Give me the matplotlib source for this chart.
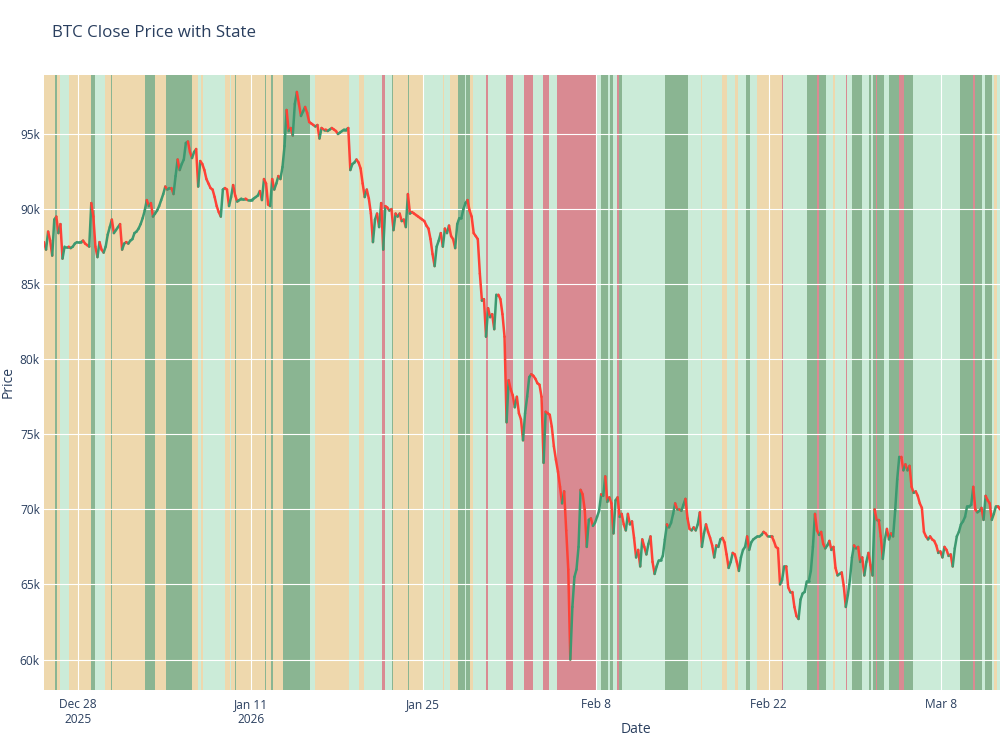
import matplotlib
matplotlib.use("Agg")
import matplotlib.pyplot as plt
import matplotlib.dates as mdates
from matplotlib.collections import LineCollection
from matplotlib.ticker import FuncFormatter
import numpy as np
import pandas as pd

# 4-hourly BTC close (thousands of USD), from 2025-12-25 06:00
series_start = "2025-12-25 06:00"
close_k = [
    87.8, 87.3, 88.5, 87.9, 86.9, 89.3, 89.5, 88.4, 89.0, 86.7,
    87.5, 87.5, 87.5, 87.4, 87.5, 87.7, 87.8, 87.8, 87.8, 87.9,
    87.7, 87.6, 87.5, 90.4, 89.5, 87.5, 86.8, 87.8, 87.3, 87.1,
    87.5, 88.3, 88.8, 89.3, 88.4, 88.6, 88.8, 89.0, 87.3, 87.7,
    87.8, 87.7, 87.9, 88.0, 88.4, 88.5, 88.7, 89.0, 89.4, 89.9,
    90.6, 90.2, 90.4, 89.5, 89.7, 89.9, 90.2, 90.6, 91.0, 91.5,
    91.3, 91.4, 91.4, 91.0, 92.2, 93.3, 92.6, 93.0, 93.3, 94.4,
    94.5, 93.8, 93.4, 93.8, 94.0, 91.5, 93.2, 93.0, 92.6, 92.0,
    91.7, 91.4, 91.3, 90.8, 90.2, 89.8, 89.5, 91.3, 91.4, 91.3,
    90.2, 90.8, 91.6, 90.9, 90.5, 90.6, 90.7, 90.7, 90.7, 90.6,
    90.6, 90.6, 90.7, 90.8, 90.9, 91.2, 90.6, 92.0, 91.7, 90.3,
    90.2, 92.0, 91.3, 91.7, 92.2, 92.0, 92.8, 94.2, 96.6, 95.2,
    95.4, 94.9, 97.0, 97.8, 97.0, 96.2, 96.5, 96.8, 96.4, 95.8,
    95.7, 95.6, 95.5, 95.6, 94.7, 95.4, 95.3, 95.3, 95.2, 95.3,
    95.4, 95.3, 95.2, 95.0, 95.1, 95.2, 95.3, 95.3, 95.4, 92.6,
    93.0, 93.1, 93.3, 93.1, 92.7, 91.7, 90.8, 91.3, 90.7, 89.7,
    87.8, 89.3, 89.7, 88.8, 90.4, 87.3, 90.2, 90.1, 89.9, 90.0,
    88.6, 89.7, 89.5, 89.7, 89.2, 89.3, 88.8, 91.0, 89.7, 89.8,
    89.7, 89.6, 89.5, 89.4, 89.3, 89.2, 88.9, 88.7, 88.0, 87.0,
    86.2, 87.5, 87.9, 88.4, 87.5, 88.7, 88.4, 88.9, 88.2, 88.0,
    87.4, 89.0, 89.4, 89.4, 90.0, 90.4, 90.6, 89.9, 89.5, 88.4,
    88.2, 88.0, 85.7, 83.9, 84.0, 81.5, 83.4, 82.8, 83.0, 82.0,
    84.3, 84.3, 84.0, 83.0, 81.5, 75.8, 78.6, 78.0, 77.6, 76.8,
    77.5, 76.4, 76.0, 74.6, 76.4, 77.5, 78.8, 79.0, 78.9, 78.7,
    78.4, 78.3, 77.5, 73.1, 76.5, 76.4, 76.3, 75.5, 74.2, 73.3,
    72.5, 71.5, 70.4, 71.2, 68.6, 66.0, 60.0, 63.5, 65.5, 66.0,
    67.5, 71.3, 71.0, 70.0, 67.5, 69.3, 69.4, 68.9, 69.1, 69.5,
    69.9, 71.0, 70.9, 72.2, 70.5, 70.8, 70.4, 68.4, 70.6, 70.8,
    69.5, 69.7, 69.0, 68.6, 69.7, 69.0, 69.2, 68.1, 66.8, 67.3,
    66.2, 68.0, 67.5, 67.0, 67.7, 68.2, 66.5, 65.7, 66.2, 66.6,
    66.6, 66.9, 68.0, 69.0, 68.8, 69.1, 69.7, 70.4, 70.0, 70.0,
    69.9, 70.3, 70.7, 69.4, 68.7, 68.6, 68.8, 68.6, 69.0, 69.8,
    67.5, 68.4, 69.0, 68.5, 68.1, 67.6, 66.8, 67.6, 67.5, 68.0,
    68.1, 67.8, 67.0, 66.1, 66.5, 67.1, 67.0, 66.5, 65.9, 66.8,
    67.3, 67.5, 68.2, 67.3, 67.8, 68.0, 68.1, 68.2, 68.2, 68.3,
    68.5, 68.4, 68.2, 68.2, 68.2, 67.9, 67.5, 67.4, 65.0, 65.3,
    66.2, 66.2, 64.8, 64.5, 64.5, 63.5, 62.9, 62.7, 64.0, 64.4,
    64.5, 65.2, 65.2, 65.9, 67.5, 69.7, 68.6, 68.3, 68.5, 67.7,
    67.4, 67.6, 67.9, 67.3, 67.5, 66.1, 65.6, 65.7, 65.8, 64.9,
    63.5, 64.3, 65.3, 66.8, 67.6, 67.4, 67.5, 66.5, 66.8, 65.6,
    66.5, 67.1, 66.3, 65.6, 70.0, 69.3, 69.3, 68.2, 66.7, 68.0,
    68.7, 68.0, 68.4, 68.2, 69.9, 72.0, 73.5, 73.5, 72.6, 73.0,
    72.6, 72.9, 71.5, 71.1, 71.2, 70.9, 70.4, 70.1, 68.5, 68.2,
    68.0, 68.2, 68.0, 67.9, 67.6, 67.1, 67.2, 66.8, 67.5, 67.3,
    66.9, 67.0, 66.2, 67.4, 68.2, 68.5, 69.0, 69.2, 69.5, 70.2,
    70.2, 70.3, 71.5, 70.0, 69.8, 69.9, 70.1, 69.3, 70.9, 70.6,
    70.4, 69.3, 69.7, 70.2, 70.2, 70.0,
]

# state runs: start (days from 2025-12-28 00:00) and state code
# N = neutral, U = up, S = strong up, D = down
band_start_day = [
    -2.75, -1.89, -1.67, -1.48, -0.73, 1.09, 1.41, 2.17, 2.65, 2.79,
    5.41, 6.22, 7.17, 9.28, 9.73, 10.01, 10.14, 11.92, 12.30, 12.44,
    12.71, 12.79, 15.20, 15.28, 15.68, 15.81, 16.63, 18.85, 19.20, 21.98,
    22.79, 23.20, 24.69, 24.87, 25.47, 25.55, 26.74, 26.85, 27.98, 28.52,
    28.58, 29.60, 29.66, 30.15, 30.82, 31.36, 31.50, 31.77, 31.99, 33.12,
    33.25, 34.74, 35.28, 36.15, 36.90, 37.71, 38.20, 38.80, 42.04, 42.37,
    42.98, 43.12, 43.34, 43.67, 43.88, 44.07, 47.58, 49.47, 50.48, 50.58,
    52.23, 52.59, 53.26, 53.53, 54.15, 54.48, 55.02, 57.05, 57.18, 59.07,
    59.88, 60.05, 60.64, 61.23, 61.37, 62.24, 62.37, 62.77, 63.58, 64.15,
    64.26, 64.48, 64.70, 64.80, 65.35, 65.73, 66.59, 67.00, 67.73, 71.51,
    72.59, 72.72, 73.27, 73.54, 74.08, 74.29, 74.48,
]
band_state = list(
    "NSNUNSUNSN"
    "SNSNUNUNUN"
    "SNSNSNSUNU"
    "NUDUSNSNUN"
    "UNUNSUSNUD"
    "UDUDUDUDUS"
    "USUDSUSUNU"
    "NUNUSUNDUS"
    "DSUNUDUSUS"
    "USDSUSDSUS"
    "DSUSUNU"
)

state_colors = {
    "N": "#eed8ad",
    "U": "#cbebd8",
    "S": "#8ab592",
    "D": "#d98a92",
}

times = pd.date_range(series_start, periods=len(close_k), freq="4h")
close = np.array(close_k) * 1000
x = mdates.date2num(times)
x_end = mdates.date2num(pd.Timestamp("2026-03-12 18:00"))

plt.rcParams["font.family"] = ["Open Sans", "DejaVu Sans"]
text_color = "#2a3f5f"

fig = plt.figure(figsize=(10, 7.5), dpi=100)
ax = fig.add_axes([0.044, 0.08, 0.956, 0.82])

base = pd.Timestamp("2025-12-28")
starts = [mdates.date2num(base + pd.to_timedelta(d, unit="D")) for d in band_start_day]
ends = starts[1:] + [x_end]
for s, e, st in zip(starts, ends, band_state):
    ax.axvspan(s, e, color=state_colors[st], lw=0, zorder=0)

# price line, green when rising, red when falling
pts = np.column_stack([x, close])
segs = np.stack([pts[:-1], pts[1:]], axis=1)
cols = np.where(np.diff(close) >= 0, "#3d9970", "#ff4136")
lc = LineCollection(segs, colors=cols, linewidths=1.8, zorder=3, capstyle="round")
ax.add_collection(lc)

ax.set_xlim(x[0], x_end)
ax.set_ylim(57970, 98930)

tick_dates = pd.to_datetime(["2025-12-28", "2026-01-11", "2026-01-25",
                             "2026-02-08", "2026-02-22", "2026-03-08"])
tick_labels = ["Dec 28\n2025", "Jan 11\n2026", "Jan 25", "Feb 8", "Feb 22", "Mar 8"]
ax.set_xticks(mdates.date2num(tick_dates))
ax.set_xticklabels(tick_labels, va="top")
ax.set_yticks(np.arange(60000, 96000, 5000))
ax.yaxis.set_major_formatter(FuncFormatter(lambda v, p: f"{int(v / 1000)}k"))

ax.set_axisbelow(False)
ax.grid(True, color="white", lw=0.8)
ax.tick_params(length=0, labelsize=8.6, colors=text_color)
ax.tick_params(axis="x", pad=6)
ax.tick_params(axis="y", pad=3)
for sp in ax.spines.values():
    sp.set_visible(False)

fig.text(0.052, 0.956, "BTC Close Price with State", fontsize=12.2,
         color=text_color, va="center", ha="left")
fig.text(0.636, 0.027, "Date", fontsize=10, color=text_color, ha="center", va="center")
fig.text(0.008, 0.49, "Price", fontsize=10, color=text_color, rotation=90,
         ha="center", va="center")

fig.savefig("out.png", dpi=100)
